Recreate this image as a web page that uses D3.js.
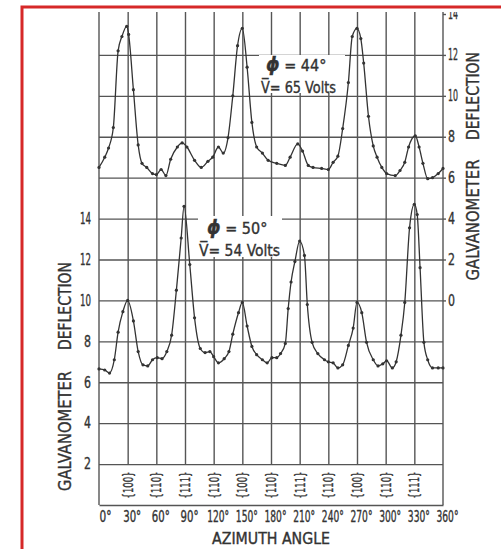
<!DOCTYPE html>
<html>
<head>
<meta charset="utf-8">
<script src="https://cdnjs.cloudflare.com/ajax/libs/d3/7.8.5/d3.min.js"></script>
<style>
  body { margin: 0; background: #fff; }
  svg text { font-family: "DejaVu Sans Condensed", "DejaVu Sans", sans-serif; font-stretch: condensed; fill: #333; stroke: #333; stroke-width: 0.35px; }
</style>
</head>
<body>
<svg width="501" height="549"></svg>
<script>
var angleTicks = [0, 30, 60, 90, 120, 150, 180, 210, 240, 270, 300, 330, 360];
var millerAngles = [30, 60, 90, 120, 150, 180, 210, 240, 270, 300, 330];
var millerLabels = ["{100}", "{110}", "{111}", "{110}", "{100}", "{110}", "{111}", "{110}", "{100}", "{110}", "{111}"];
var gridValues = [2, 4, 6, 8, 10, 12, 14, 16, 18, 20, 22];
var leftTicks = [2, 4, 6, 8, 10, 12, 14];
var rightTicks = [0, 2, 4, 6, 8, 10, 12, 14];

// phi = 44 deg, V = 65 volts (read on the right hand scale)
var upperAngles = [0, 6, 10, 15, 20, 24, 29, 31, 36, 41, 45, 50, 56, 60, 65, 70, 75, 82, 87, 92,
  100, 107, 114, 119, 125, 130, 135, 140, 145, 150, 155, 160, 165, 171, 177, 186, 195, 200, 208, 213,
  219, 224, 233, 240, 245, 250, 255, 261, 265, 270, 274, 277, 282, 287, 291, 296, 301, 310, 315, 320,
  324, 331, 335, 339, 344, 349, 355, 360];
var upperDeflection = [6.5, 7.0, 7.45, 8.45, 12.2, 12.9, 13.4, 13.0, 10.3, 7.6, 6.7, 6.5, 6.2, 6.15, 6.4, 6.1, 6.9, 7.5, 7.7, 7.5,
  6.85, 6.5, 6.8, 7.0, 7.5, 7.2, 7.95, 10.0, 12.45, 13.3, 11.4, 8.7, 7.5, 7.2, 6.85, 6.7, 6.6, 7.0, 7.65, 7.3,
  6.6, 6.5, 6.45, 6.4, 6.75, 7.05, 8.4, 10.65, 12.9, 13.3, 12.8, 11.6, 9.0, 7.55, 7.0, 6.5, 6.2, 6.1, 6.35, 6.75,
  7.5, 8.05, 7.5, 6.7, 5.95, 6.0, 6.2, 6.45];

// phi = 50 deg, V = 54 volts (read on the left hand scale)
var lowerAngles = [0, 6, 11, 16, 20, 25, 30, 36, 41, 46, 51, 56, 61, 66, 71, 76, 81, 86, 89, 95,
  100, 106, 111, 116, 120, 125, 131, 136, 140, 146, 150, 155, 160, 165, 171, 176, 181, 186, 190, 195,
  198, 201, 205, 210, 215, 218, 223, 229, 236, 240, 245, 250, 255, 261, 266, 270, 275, 280, 287, 292,
  297, 301, 307, 311, 316, 320, 325, 330, 333, 336, 340, 344, 349, 355, 360];
var lowerDeflection = [6.65, 6.6, 6.45, 7.1, 8.45, 9.45, 10.0, 9.0, 7.5, 6.85, 6.8, 7.1, 7.2, 7.15, 7.5, 8.3, 10.5, 13.05, 14.6, 11.75,
  9.15, 7.65, 7.45, 7.5, 7.25, 6.95, 7.15, 7.5, 8.35, 9.4, 9.9, 8.75, 7.75, 7.35, 7.1, 6.95, 7.2, 7.2, 7.4, 7.9,
  9.6, 10.9, 11.9, 12.9, 12.2, 9.8, 7.95, 7.4, 7.1, 7.0, 6.95, 6.7, 6.85, 7.8, 8.65, 9.9, 9.4, 7.95, 7.1, 6.8,
  6.9, 7.05, 6.7, 7.0, 8.3, 9.9, 13.55, 14.7, 14.2, 11.6, 7.95, 7.1, 6.7, 6.7, 6.7];

var svg = d3.select("svg");
var ink = "#333",
    gridInk = "#555";

var x = d3.scaleLinear().domain([0, 360]).range([99, 443]);
var yLeft = d3.scaleLinear().domain([0, 24]).range([505, 14]);
var yRight = d3.scaleLinear().domain([-10, 14]).range([505, 14]);
var topY = 8;

svg.append("rect").attr("width", 501).attr("height", 549).attr("fill", "#fff");

// horizontal grid
svg.append("g")
  .attr("transform", "translate(99,0)")
  .call(d3.axisLeft(yLeft).tickValues(gridValues).tickSize(-344).tickFormat(""))
  .call(g => g.select(".domain").remove())
  .selectAll("line").attr("stroke", gridInk).attr("stroke-width", 1.4);

// vertical grid, stops at the 2 line
svg.append("g")
  .attr("transform", "translate(0," + yLeft(2) + ")")
  .call(d3.axisBottom(x).tickValues(millerAngles).tickSize(-(yLeft(2) - topY)).tickFormat(""))
  .call(g => g.select(".domain").remove())
  .selectAll("line").attr("stroke", gridInk).attr("stroke-width", 1.4);

// frame sides
svg.selectAll(".side")
  .data([0, 360])
  .enter().append("line")
    .attr("class", "side")
    .attr("x1", d => x(d)).attr("x2", d => x(d))
    .attr("y1", topY).attr("y2", yLeft(0))
    .attr("stroke", gridInk).attr("stroke-width", 1.4);

// bottom axis, labels squeezed horizontally like the lettering
var xAxis = svg.append("g")
  .attr("transform", "translate(0," + yLeft(0) + ")")
  .call(d3.axisBottom(x).tickValues(angleTicks).tickSize(0).tickPadding(6).tickFormat(d => d + "°"));
xAxis.select(".domain").attr("stroke", gridInk).attr("stroke-width", 1.4);
xAxis.selectAll("text")
  .attr("font-size", 15)
  .attr("fill", ink)
  .each(function (d) {
    var want = d < 10 ? 12 : d < 100 ? 18 : 22;
    var k = want / this.getComputedTextLength();
    d3.select(this).attr("transform", "translate(" + (d === 0 ? 6 : 4) + ",0) scale(" + k + ",1)");
  });

// left axis
var leftAxis = svg.append("g")
  .attr("transform", "translate(99,0)")
  .call(d3.axisLeft(yLeft).tickValues(leftTicks).tickSize(0).tickPadding(8));
leftAxis.select(".domain").remove();
leftAxis.selectAll("text")
  .attr("font-size", 15)
  .attr("fill", ink)
  .attr("textLength", d => d < 10 ? 7 : 11)
  .attr("lengthAdjust", "spacingAndGlyphs");

// right axis
var rightAxis = svg.append("g")
  .attr("transform", "translate(443,0)")
  .call(d3.axisRight(yRight).tickValues(rightTicks).tickSize(3).tickPadding(2));
rightAxis.select(".domain").remove();
rightAxis.selectAll("line").attr("stroke", gridInk).attr("stroke-width", 1.4);
rightAxis.selectAll("text")
  .attr("font-size", 15)
  .attr("fill", ink)
  .attr("textLength", d => d < 10 ? 7 : 10)
  .attr("lengthAdjust", "spacingAndGlyphs");

svg.selectAll("g").attr("font-family", null);

// miller index labels
svg.selectAll(".miller")
  .data(millerAngles)
  .enter().append("text")
    .attr("class", "miller")
    .attr("transform", d => "translate(" + x(d) + ",485) rotate(-90)")
    .attr("text-anchor", "middle")
    .attr("dy", "0.36em")
    .attr("font-size", 14)
    .attr("fill", ink)
    .attr("textLength", 27)
    .attr("lengthAdjust", "spacingAndGlyphs")
    .text((d, i) => millerLabels[i]);

// white ground under the notes
svg.append("rect").attr("x", 259).attr("y", 55).attr("width", 86).attr("height", 38).attr("fill", "#fff");
svg.append("rect").attr("x", 198).attr("y", 216).attr("width", 84).attr("height", 41).attr("fill", "#fff");

// curves
var line = d3.line().curve(d3.curveMonotoneX);
function curve(angles, values, y) {
  var pts = angles.map((a, i) => [x(a), y(values[i])]);
  svg.append("path")
    .attr("d", line(pts))
    .attr("fill", "none")
    .attr("stroke", ink)
    .attr("stroke-width", 1.3);
  svg.append("g").selectAll("circle")
    .data(pts)
    .enter().append("circle")
      .attr("cx", d => d[0]).attr("cy", d => d[1])
      .attr("r", 1.6)
      .attr("fill", ink);
}
curve(upperAngles, upperDeflection, yRight);
curve(lowerAngles, lowerDeflection, yLeft);

// notes: phi line and voltage line
function note(px, py, phi, volts, vx, vlen) {
  var t = svg.append("text")
    .attr("x", px).attr("y", py)
    .attr("font-size", 16)
    .attr("fill", ink);
  t.append("tspan")
    .attr("font-size", 19)
    .attr("font-weight", "bold")
    .attr("font-style", "italic")
    .text("\u03D5");
  t.append("tspan").text(" = " + phi + "°");
  svg.append("text")
    .attr("x", vx).attr("y", py + 22)
    .attr("font-size", 16)
    .attr("fill", ink)
    .attr("textLength", vlen)
    .attr("lengthAdjust", "spacingAndGlyphs")
    .text("V\u0305= " + volts + " Volts");
}
note(266, 71, 44, 65, 261, 75);
note(207, 234, 50, 54, 199, 81);

// axis titles
function title(word, cx, cy, len) {
  svg.append("text")
    .attr("transform", "translate(" + cx + "," + cy + ") rotate(-90)")
    .attr("text-anchor", "middle")
    .attr("dy", "0.36em")
    .attr("font-size", 18)
    .attr("fill", ink)
    .attr("textLength", len)
    .attr("lengthAdjust", "spacingAndGlyphs")
    .text(word);
}
title("GALVANOMETER", 65, 431, 120);
title("DEFLECTION", 65, 306, 88);
title("GALVANOMETER", 473, 220, 121);
title("DEFLECTION", 473, 96, 88);

svg.append("text")
  .attr("x", 271).attr("y", 544)
  .attr("text-anchor", "middle")
  .attr("font-size", 15)
  .attr("fill", ink)
  .attr("textLength", 118)
  .attr("lengthAdjust", "spacingAndGlyphs")
  .text("AZIMUTH   ANGLE");

// cropped photo edge
svg.append("rect").attr("width", 501).attr("height", topY + 4).attr("fill", "#fff");
svg.append("rect").attr("width", 21).attr("height", 549).attr("fill", "#fff");
svg.append("path")
  .attr("d", "M22,549V7H501")
  .attr("fill", "none")
  .attr("stroke", "#d62828")
  .attr("stroke-width", 3);
</script>
</body>
</html>
